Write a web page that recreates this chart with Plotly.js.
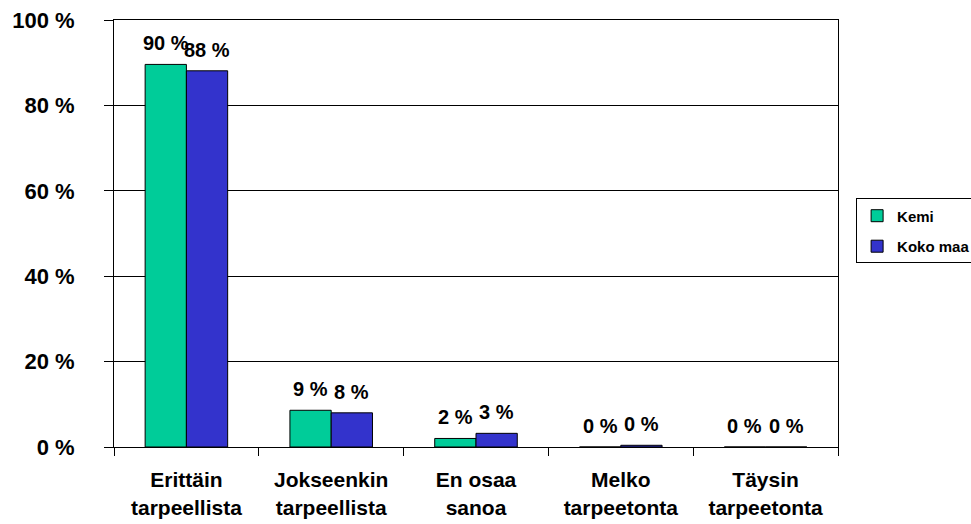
<!DOCTYPE html>
<html>
<head>
<meta charset="utf-8">
<script src="https://cdn.plot.ly/plotly-3.0.1.min.js"></script>
<style>html,body{margin:0;padding:0;background:#fff;}#chart{width:971px;height:524px;}</style>
</head>
<body>
<div id="chart"></div>
<script>
const categories = ["Erittäin<br>tarpeellista", "Jokseenkin<br>tarpeellista", "En osaa<br>sanoa", "Melko<br>tarpeetonta", "Täysin<br>tarpeetonta"];
const kemi = [89.6, 8.6, 2.0, 0, 0];
const kokoMaa = [88.1, 8.0, 3.2, 0.4, 0];
const seriesNames = ["Kemi", "Koko maa"];
const seriesColors = ["#00CC99", "#3333CC"];
const yTicks = [0, 20, 40, 60, 80, 100];
const yTickText = ["0 %", "20 %", "40 %", "60 %", "80 %", "100 %"];

const FONT = "Liberation Sans, Arial, sans-serif";
const series = [kemi, kokoMaa];

const traces = series.map((vals, i) => ({
  type: "bar",
  name: "<b>" + seriesNames[i] + "</b>",
  legendgroup: "g" + i,
  x: categories,
  y: vals,
  marker: {color: seriesColors[i], line: {color: "#000", width: 1}},
  hoverinfo: "skip"
}));

const annotations = [];
series.forEach((vals, i) => {
  vals.forEach((v, j) => {
    annotations.push({
      x: categories[j], y: v, xref: "x", yref: "y",
      text: "<b>" + Math.round(v) + " %</b>",
      showarrow: false, yanchor: "bottom", xanchor: "center",
      xshift: i === 0 ? -20.75 : 20.75, yshift: 8,
      font: {family: FONT, size: 20, color: "#000"}
    });
  });
});

const layout = {
  width: 971, height: 524,
  margin: {l: 114, r: 133, t: 20, b: 77, autoexpand: false},
  paper_bgcolor: "#fff", plot_bgcolor: "#fff",
  barmode: "group", bargap: 0.43, bargroupgap: 0,
  font: {family: FONT, color: "#000"},
  xaxis: {
    type: "category",
    showline: true, linecolor: "#000", linewidth: 1, mirror: true,
    ticks: "outside", tickson: "boundaries", ticklen: 8, tickcolor: "#000",
    tickfont: {family: FONT, size: 21, color: "#000", weight: "bold"},
    ticklabelstandoff: 14,
    showgrid: false
  },
  yaxis: {
    range: [0, 100], tickmode: "array", tickvals: yTicks, ticktext: yTickText,
    showline: true, linecolor: "#000", linewidth: 1, mirror: true,
    ticks: "outside", ticklen: 9, tickcolor: "#000",
    tickfont: {family: FONT, size: 22, color: "#000", weight: "bold"},
    ticklabelstandoff: 25,
    showgrid: true, gridcolor: "#000", gridwidth: 1,
    zeroline: false
  },
  legend: {
    x: 1.025, y: 0.506, xanchor: "left", yanchor: "middle",
    bordercolor: "#000", borderwidth: 1, bgcolor: "#fff",
    traceorder: "grouped", tracegroupgap: 8, itemwidth: 30,
    font: {family: FONT, size: 15, color: "#000"}
  },
  annotations: annotations,
  showlegend: true
};

Plotly.newPlot("chart", traces, layout, {displayModeBar: false, staticPlot: true});
</script>
</body>
</html>
